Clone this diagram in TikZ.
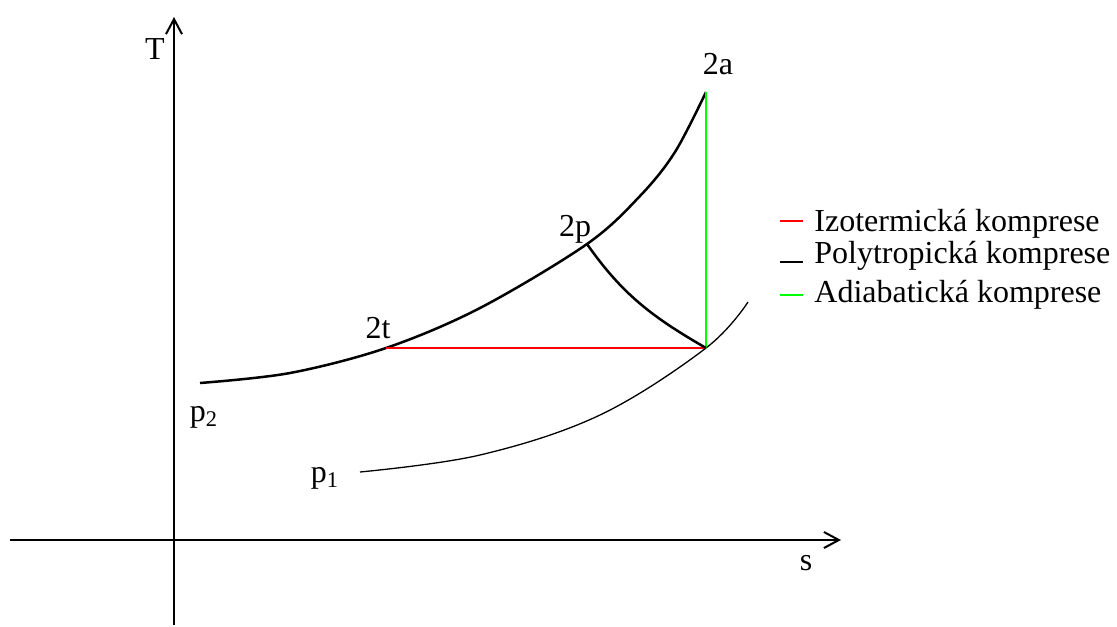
\documentclass[tikz,border=0pt]{standalone}
\usepackage{fontspec}
\setmainfont{Liberation Serif}
\usetikzlibrary{arrows.meta}

\begin{document}
\begin{tikzpicture}[
    x=0.5pt, y=-0.5pt,
    axis/.style={line width=1pt, -{Straight Barb[length=7.5pt, width=8pt]}},
    lbl/.style={font=\fontsize{16}{19}\selectfont, inner sep=0pt, anchor=base},
    isobar/.style={line width=1.25pt},
    isobarlow/.style={line width=0.65pt},
    process/.style={line width=1.35pt},
    key/.style={line width=1pt}
]
\useasboundingbox (0,0) rectangle (1117,626);

% Axes
\coordinate (tbot) at (174,625);
\coordinate (ttop) at (174,17);
\coordinate (sleft) at (10,540);
\coordinate (sright) at (841,540);
\draw[axis] (tbot) -- (ttop);
\draw[axis] (sleft) -- (sright);
\node[lbl] (tlab) at (155,60) {T};
\node[lbl] (slab) at (806,570) {s};

% States
\coordinate (pt2a) at (706,92);
\coordinate (pt2p) at (587,244);
\coordinate (pt2t) at (386,348);
\coordinate (pt1) at (706,348);

% Isobars
\draw[isobar] plot[smooth, tension=0.55] coordinates {(200,383) (290,373) (pt2t) (480,308) (pt2p) (640,196) (675,152) (pt2a)};
\draw[isobarlow] plot[smooth, tension=0.6] coordinates {(360,472) (480,455) (600,415) (pt1) (748,302)};

% Compressions
\draw[process, red] (pt2t) -- (pt1);
\draw[process, green] (pt2a) -- (pt1);
\draw[isobar] (pt2p) to[out=-55, in=150] (pt1);

% Labels
\node[lbl] (l2a) at (718,75) {2a};
\node[lbl] (l2p) at (575,236) {2p};
\node[lbl] (l2t) at (378,338) {2t};
\node[lbl] (lp2) at (204,421) {p\textsubscript{2}};
\node[lbl] (lp1) at (325,482) {p\textsubscript{1}};

% Legend
\node[lbl, anchor=base west] (k1) at (814,231) {Izotermická komprese};
\node[lbl, anchor=base west] (k2) at (814,263) {Polytropická komprese};
\node[lbl, anchor=base west] (k3) at (814,302) {Adiabatická komprese};
\draw[key, red] (780,221) -- (803,221);
\draw[key] (780,262) -- (803,262);
\draw[key, green] (780,295) -- (803,295);

\end{tikzpicture}
\end{document}
